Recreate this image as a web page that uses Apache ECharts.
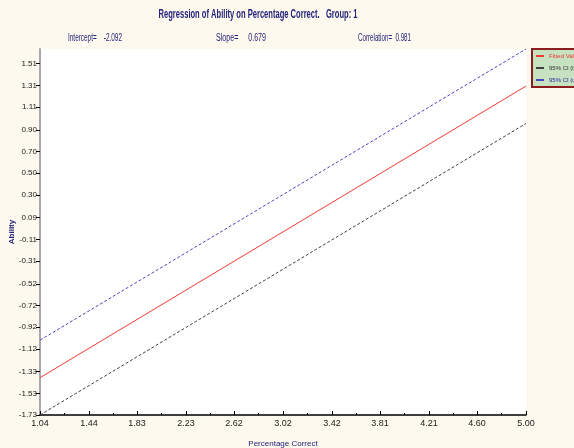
<!DOCTYPE html>
<html><head><meta charset="utf-8">
<script src="https://cdn.jsdelivr.net/npm/echarts@6/dist/echarts.min.js"></script>
<style>html,body{margin:0;padding:0;background:#FEF9EE;}#c{width:574px;height:448px;}</style>
</head><body><div id="c"></div>
<script>
const xEnds = [1.04, 5.00];
const fitted = [-1.386, 1.303];
const ciLower = [-1.73, 0.958];
const ciUpper = [-1.04, 1.645];
const xTickLabels = [1.04, 1.44, 1.83, 2.23, 2.62, 3.02, 3.42, 3.81, 4.21, 4.60, 5.00];
const xMinorTicks = [1.24, 1.635, 2.03, 2.425, 2.82, 3.22, 3.615, 4.01, 4.405, 4.80];
const yTickLabels = [1.51, 1.31, 1.11, 0.90, 0.70, 0.50, 0.30, 0.09, -0.11, -0.31, -0.52, -0.72, -0.92, -1.12, -1.33, -1.53, -1.73];
const seriesNames = ['Fitted Values', '95% CI (lower)', '95% CI (upper)'];
const titleText = 'Regression of Ability on Percentage Correct.   Group: 1';
const statTexts = ['Intercept=    -2.092', 'Slope=     0.679', 'Correlation=  0.981'];

const FONT = '"Liberation Sans",Arial,sans-serif';
const navy = '#22227A';
const mctx = document.createElement('canvas').getContext('2d');
function narrowText(text, x, y, font, color, targetW, align) {
  mctx.font = font;
  const w = mctx.measureText(text).width;
  return {type: 'text', x: x, y: y, scaleX: targetW / w, silent: true,
    style: {text: text, font: font, fill: color, align: align, verticalAlign: 'middle'}};
}
const chart = echarts.init(document.getElementById('c'));
const toPts = arr => xEnds.map((x, i) => [x, arr[i]]);
chart.setOption({
  backgroundColor: '#FEF9EE',
  animation: false,
  graphic: [
    narrowText(titleText, 258, 14, 'bold 13px ' + FONT, navy, 199, 'center'),
    narrowText(statTexts[0], 68, 38, '10px ' + FONT, navy, 54, 'left'),
    narrowText(statTexts[1], 216, 38, '10px ' + FONT, navy, 50, 'left'),
    narrowText(statTexts[2], 358, 38, '10px ' + FONT, navy, 53, 'left')
  ],
  legend: {
    left: 532, top: 49, orient: 'vertical', itemWidth: 8, itemHeight: 2, itemGap: 6,
    padding: [4, 20, 4, 4],
    backgroundColor: '#C6E2C0', borderColor: '#8A1E1E', borderWidth: 2,
    icon: 'rect',
    data: [
      {name: seriesNames[0], textStyle: {color: '#F03030'}},
      {name: seriesNames[1], textStyle: {color: '#303030'}},
      {name: seriesNames[2], textStyle: {color: '#2828A0'}}
    ],
    textStyle: {fontFamily: FONT, fontSize: 6}
  },
  grid: {left: 40, right: 48, top: 49, bottom: 33, show: true, backgroundColor: '#FFFFFF', borderWidth: 0, outerBoundsMode: 'none', containLabel: false},
  xAxis: [{
    type: 'value', min: 1.04, max: 5.00,
    name: 'Percentage Correct', nameLocation: 'middle', nameGap: 25,
    nameTextStyle: {fontFamily: FONT, fontSize: 8, color: navy},
    axisLine: {onZero: false, lineStyle: {color: '#000', width: 1.5}},
    axisTick: {show: true, inside: true, length: 4, customValues: xTickLabels, lineStyle: {color: '#000'}},
    axisLabel: {customValues: xTickLabels, formatter: v => v.toFixed(2), fontFamily: FONT, fontSize: 9, color: '#202020', margin: 4, showMinLabel: true, showMaxLabel: true, hideOverlap: false},
    splitLine: {show: false}
  }, {
    type: 'value', min: 1.04, max: 5.00, position: 'bottom',
    axisLine: {show: false, onZero: false},
    axisTick: {show: true, inside: true, length: 2, customValues: xMinorTicks, lineStyle: {color: '#000'}},
    axisLabel: {show: false}, splitLine: {show: false}
  }],
  yAxis: {
    type: 'value', min: -1.73, max: 1.645,
    name: 'Ability', nameLocation: 'middle', nameGap: 24, nameMoveOverlap: false,
    nameTextStyle: {fontFamily: FONT, fontSize: 8, fontWeight: 'bold', color: navy},
    axisLine: {show: true, onZero: false, lineStyle: {color: '#A8A8A8', width: 2}},
    axisTick: {show: true, length: 4, customValues: yTickLabels, lineStyle: {color: '#000'}},
    axisLabel: {customValues: yTickLabels, formatter: v => v.toFixed(2), fontFamily: FONT, fontSize: 8, color: '#202020', margin: 3, showMinLabel: true, showMaxLabel: true, hideOverlap: false},
    splitLine: {show: false}
  },
  series: [
    {name: seriesNames[0], type: 'line', data: toPts(fitted), symbol: 'none', lineStyle: {color: '#F03A3A', width: 1}, itemStyle: {color: '#F03A3A'}},
    {name: seriesNames[1], type: 'line', data: toPts(ciLower), symbol: 'none', lineStyle: {color: '#404040', width: 1, type: [3, 2]}, itemStyle: {color: '#404040'}},
    {name: seriesNames[2], type: 'line', data: toPts(ciUpper), symbol: 'none', lineStyle: {color: '#4848C0', width: 1, type: [3, 2]}, itemStyle: {color: '#4848C0'}}
  ]
});
</script></body></html>
